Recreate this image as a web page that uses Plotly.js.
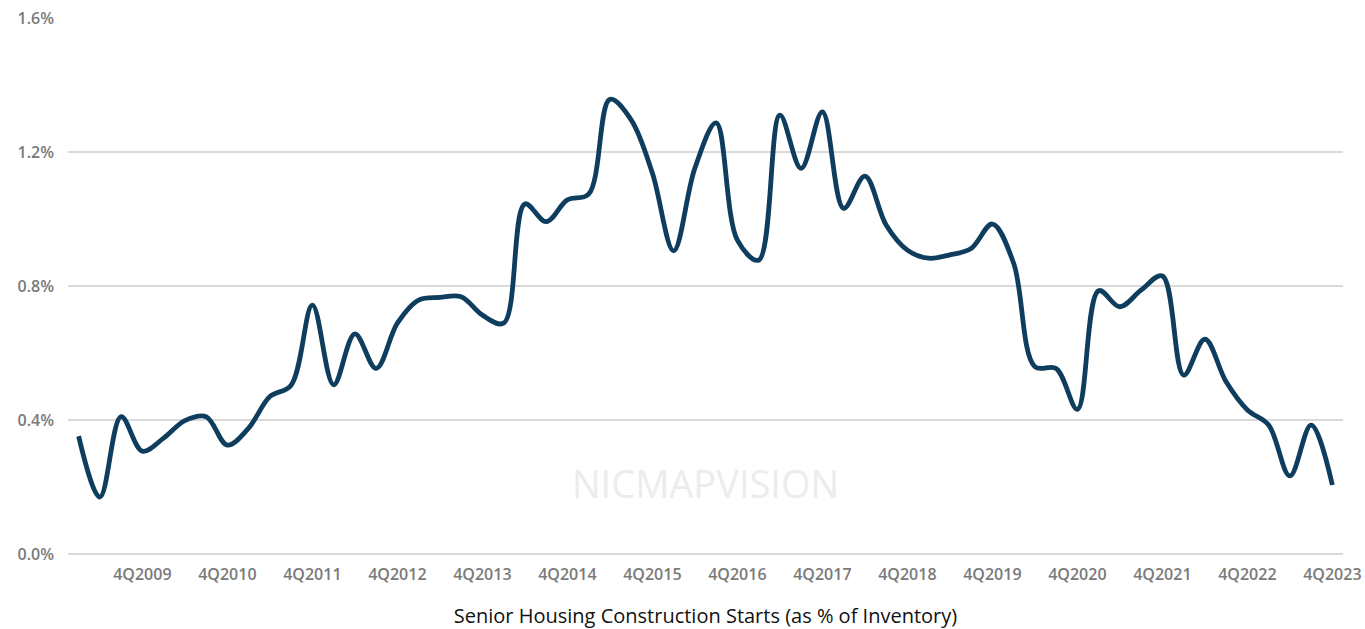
<!DOCTYPE html>
<html>
<head>
<meta charset="utf-8">
<script src="https://cdn.plot.ly/plotly-3.0.1.min.js"></script>
<style>html,body{margin:0;padding:0;background:#fff;}#chart{width:1365px;height:629px;}</style>
</head>
<body>
<div id="chart"></div>
<script>
// Quarters 1Q2009 .. 4Q2023
const quarters = [];
for (let y = 2009; y <= 2023; y++) { for (let q = 1; q <= 4; q++) quarters.push(q + "Q" + y); }

// Senior housing construction starts as % of inventory
const startsPct = [
  0.352, 0.170, 0.410, 0.307, 0.346, 0.398, 0.410, 0.325, 0.376, 0.470,
  0.504, 0.743, 0.505, 0.657, 0.554, 0.689, 0.758, 0.766, 0.768, 0.713,
  0.689, 1.045, 0.992, 1.057, 1.074, 1.357, 1.296, 1.137, 0.905, 1.152,
  1.287, 0.937, 0.877, 1.310, 1.151, 1.320, 1.032, 1.128, 0.982, 0.907,
  0.883, 0.893, 0.912, 0.985, 0.868, 0.559, 0.554, 0.432, 0.786, 0.738,
  0.788, 0.830, 0.534, 0.641, 0.514, 0.430, 0.385, 0.233, 0.385, 0.206
];

const tickLabels = ["4Q2009","4Q2010","4Q2011","4Q2012","4Q2013","4Q2014","4Q2015","4Q2016","4Q2017","4Q2018","4Q2019","4Q2020","4Q2021","4Q2022","4Q2023"];
const yTicks = [0, 0.4, 0.8, 1.2, 1.6];
const yTickText = ["0.0%", "0.4%", "0.8%", "1.2%", "1.6%"];

const xIdx = quarters.map((_, i) => i);
const tickVals = tickLabels.map(l => quarters.indexOf(l));

const trace = {
  x: xIdx,
  y: startsPct,
  text: quarters,
  type: 'scatter',
  mode: 'lines',
  line: {color: '#0e3d5e', width: 4.8, shape: 'spline', smoothing: 1},
  hovertemplate: '%{text}: %{y:.2f}%<extra></extra>'
};

const layout = {
  width: 1365, height: 629,
  margin: {l: 68, r: 22, t: 18, b: 75},
  paper_bgcolor: '#ffffff', plot_bgcolor: '#ffffff',
  font: {family: 'Open Sans, sans-serif', color: '#7a7a7a'},
  showlegend: false,
  xaxis: {
    range: [-0.5, 59.5],
    tickvals: tickVals, ticktext: tickLabels,
    showgrid: false, zeroline: false, showline: false, ticks: '',
    tickfont: {size: 16, color: '#7a7a7a', family: 'Open Sans, sans-serif', weight: 600},
    ticklabelstandoff: 9,
    title: {text: 'Senior Housing Construction Starts (as % of Inventory)', font: {size: 20, color: '#111111', family: 'Open Sans, sans-serif', weight: 500}, standoff: 26}
  },
  yaxis: {
    range: [0, 1.6],
    tickvals: yTicks, ticktext: yTickText,
    showgrid: true, gridcolor: '#d9d9d9', gridwidth: 1.3,
    zeroline: true, zerolinecolor: '#d9d9d9', zerolinewidth: 1.3,
    showline: false, ticks: '',
    tickfont: {size: 16, color: '#7a7a7a', family: 'Open Sans, sans-serif', weight: 600},
    ticklabelstandoff: 13
  },
  annotations: [{
    text: 'NICMAPVISION', x: 0.5, y: 0.08, xref: 'paper', yref: 'paper',
    showarrow: false, font: {size: 38, color: '#ececec', family: 'Open Sans, sans-serif'}
  }]
};

Plotly.newPlot('chart', [trace], layout, {displayModeBar: false, staticPlot: true});
</script>
</body>
</html>
